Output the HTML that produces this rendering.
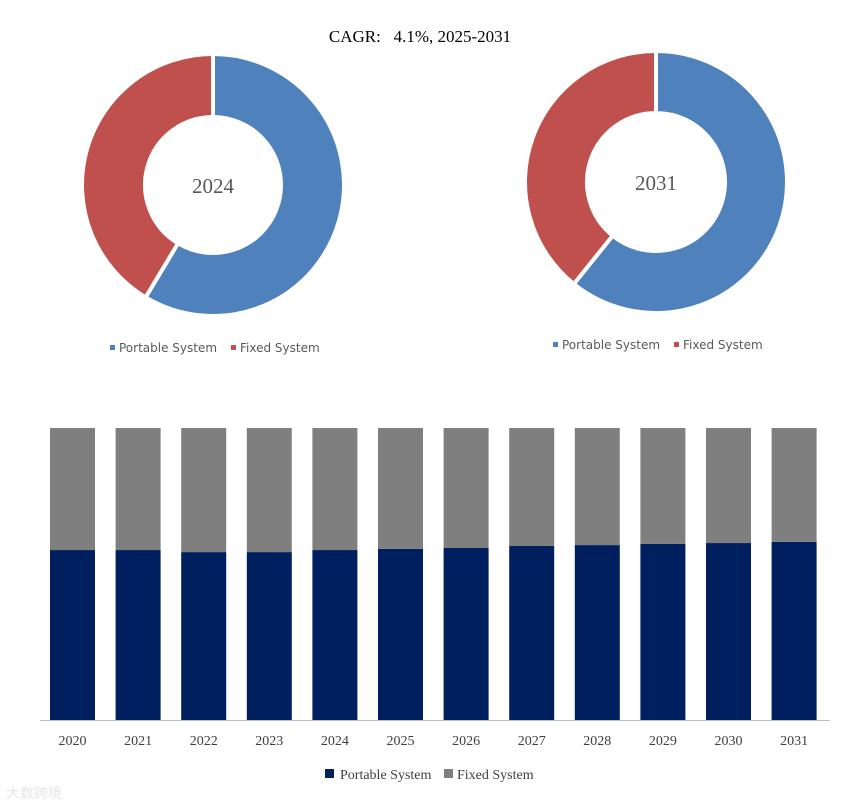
<!DOCTYPE html>
<html><head><meta charset="utf-8"><style>
body{margin:0;background:#fff;width:851px;height:807px;overflow:hidden}
svg{display:block}
.serif{font-family:"Liberation Serif","Noto Serif CJK SC",serif}
.sans{font-family:"DejaVu Sans","Liberation Sans",sans-serif}
</style></head><body>
<svg id="chart" width="851" height="807">
<text class="serif" x="420" y="42" text-anchor="middle" font-size="17" fill="#000" style="white-space:pre">CAGR:   4.1%, 2025-2031</text>
<g id="donuts"></g>
<g id="bars"></g>
<text class="sans" x="6" y="798" font-size="14" fill="#e6e6e6">大数跨境</text>
</svg>
<script>
const donutYears=["2024","2031"];
const donutPortable=[58.6,60.8];
const donutFixed=[41.4,39.2];
const years=["2020","2021","2022","2023","2024","2025","2026","2027","2028","2029","2030","2031"];
const portable=[58.2,58.2,57.5,57.5,58.2,58.6,58.9,59.6,59.9,60.3,60.6,61.0];
const fixed=[41.8,41.8,42.5,42.5,41.8,41.4,41.1,40.4,40.1,39.7,39.4,39.0];

const NS="http://www.w3.org/2000/svg";
function mk(tag,attrs,parent){const e=document.createElementNS(NS,tag);for(const k in attrs)e.setAttribute(k,attrs[k]);parent.appendChild(e);return e;}
const dg=document.getElementById('donuts');
const centers=[[213,185,131,68,352],[656,182,131,69,349]];
function pt(cx,cy,r,a){return [cx+r*Math.sin(a),cy-r*Math.cos(a)];}
function arc(cx,cy,R,r,a0,a1){
 const [x0,y0]=pt(cx,cy,R,a0),[x1,y1]=pt(cx,cy,R,a1),[x2,y2]=pt(cx,cy,r,a1),[x3,y3]=pt(cx,cy,r,a0);
 const lg=(a1-a0)>Math.PI?1:0;
 return `M${x0},${y0}A${R},${R} 0 ${lg} 1 ${x1},${y1}L${x2},${y2}A${r},${r} 0 ${lg} 0 ${x3},${y3}Z`;
}
donutYears.forEach((yr,i)=>{
 const [cx,cy,R,r,ly]=centers[i];
 const tot=donutPortable[i]+donutFixed[i];
 const a1=donutPortable[i]/tot*2*Math.PI;
 const p=mk('path',{d:arc(cx,cy,R,r,0,a1),fill:'#4f81bd',stroke:'#fff','stroke-width':4},dg);
 
 
 const f=mk('path',{d:arc(cx,cy,R,r,a1,2*Math.PI),fill:'#c0504d',stroke:'#fff','stroke-width':4},dg);
 
 
 const t=mk('text',{x:cx,y:cy+8,'text-anchor':'middle','font-size':21,fill:'#595959',class:'serif'},dg);t.textContent=yr;
 
 
 const lx=cx-103;
 const l1=mk('g',{},dg);
 
 
 mk('rect',{x:lx,y:ly-7,width:5,height:5,fill:'#4f81bd'},l1);
 const t1=mk('text',{x:lx+9,y:ly,'font-size':12,fill:'#595959',class:'sans'},l1);t1.textContent='Portable System';
 const l2=mk('g',{},dg);
 
 
 mk('rect',{x:lx+121,y:ly-7,width:5,height:5,fill:'#c0504d'},l2);
 const t2=mk('text',{x:lx+130,y:ly,'font-size':12,fill:'#595959',class:'sans'},l2);t2.textContent='Fixed System';
});
const bg=document.getElementById('bars');
const base=720,top0=428,H=base-top0,x0=72.5,pitch=65.6,bw=45;
const ys=v=>base-v/100*H;
years.forEach((yr,i)=>{
 const cx=x0+i*pitch, tot=portable[i]+fixed[i];
 const ph=portable[i]/tot*100;
 const r1=mk('rect',{x:cx-bw/2,y:ys(ph),width:bw,height:base-ys(ph),fill:'#001f5f'},bg);
 
 
 const r2=mk('rect',{x:cx-bw/2,y:ys(100),width:bw,height:ys(ph)-ys(100),fill:'#7f7f7f'},bg);
 
 
 const t=mk('text',{x:cx,y:745,'text-anchor':'middle','font-size':14,fill:'#404040',class:'serif'},bg);t.textContent=yr;
 
 
});
const ax=mk('line',{x1:40,x2:830,y1:base+0.5,y2:base+0.5,stroke:'#bfbfbf','stroke-width':1},bg);


const lg=mk('g',{},bg);


mk('rect',{x:325,y:769,width:9,height:9,fill:'#001f5f'},lg);
const lt1=mk('text',{x:340,y:779,'font-size':14,fill:'#404040',class:'serif'},lg);lt1.textContent='Portable System';
mk('rect',{x:444,y:769,width:9,height:9,fill:'#7f7f7f'},lg);
const lt2=mk('text',{x:457,y:779,'font-size':14,fill:'#404040',class:'serif'},lg);lt2.textContent='Fixed System';
</script>
</body></html>
